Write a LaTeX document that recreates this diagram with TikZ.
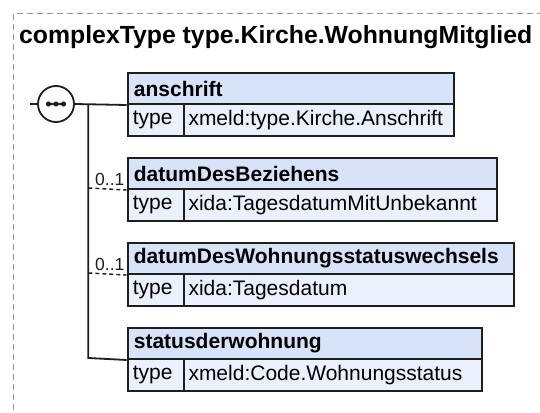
\documentclass[tikz,border=0pt]{standalone}
\usepackage{fontspec}
\setmainfont{Liberation Sans}
\definecolor{hdrfill}{RGB}{214,227,249}
\definecolor{rowfill}{RGB}{234,241,253}
\definecolor{framegray}{RGB}{150,150,150}
\definecolor{ink}{RGB}{30,30,30}
\tikzset{
  boxhdr/.style={draw=ink, line width=2pt, fill=hdrfill, rectangle, inner sep=0pt, minimum height=31pt, anchor=north west},
  boxrow/.style={draw=ink, line width=2pt, fill=rowfill, rectangle, inner sep=0pt, minimum height=32pt, anchor=north west},
  hdrtext/.style={font=\fontsize{21}{23}\selectfont\bfseries, anchor=west, inner sep=0pt, text=black},
  rowtext/.style={font=\fontsize{21}{23}\selectfont, anchor=west, inner sep=0pt, text=black},
  conn/.style={draw=ink, line width=1.8pt},
  optconn/.style={draw=ink, line width=1.4pt, dash pattern=on 4pt off 3pt},
  occ/.style={font=\fontsize{17.5}{19}\selectfont, anchor=base west, inner sep=0pt, text=ink},
}
\begin{document}
\begin{tikzpicture}[x=1pt,y=-1pt]
\useasboundingbox (0,0) rectangle (540,412);
\clip (0,0) rectangle (540,412);
\fill[white] (0,0) rectangle (540,412);
% outer dashed frame
\draw[framegray, line width=1pt, dash pattern=on 6pt off 4pt] (13.5,430) -- (13.5,13.5) -- (560,13.5);
\node[font=\fontsize{24.8}{27}\selectfont\bfseries, anchor=base west, inner sep=0pt] (title) at (19,44) {complexType type.Kirche.WohnungMitglied};

% box 1
\node[boxhdr, minimum width=326.6pt] (h1) at (126.7,72) {};
\node[boxrow, minimum width=56.6pt] (t1) at (126.7,103) {};
\node[boxrow, minimum width=270pt] (v1) at (183.3,103) {};
\node[hdrtext] (h1l) at ([xshift=7pt]h1.west) {anschrift};
\node[rowtext] (t1l) at ([xshift=6pt]t1.west) {type};
\node[rowtext] (v1l) at ([xshift=5pt]v1.west) {xmeld:type.Kirche.Anschrift};

% box 2
\node[boxhdr, minimum width=369pt] (h2) at (126.7,157) {};
\node[boxrow, minimum width=56.6pt] (t2) at (126.7,188) {};
\node[boxrow, minimum width=312.4pt] (v2) at (183.3,188) {};
\node[hdrtext] (h2l) at ([xshift=7pt]h2.west) {datumDesBeziehens};
\node[rowtext] (t2l) at ([xshift=6pt]t2.west) {type};
\node[rowtext] (v2l) at ([xshift=5pt]v2.west) {xida:TagesdatumMitUnbekannt};

% box 3
\node[boxhdr, minimum width=386.6pt] (h3) at (126.7,242) {};
\node[boxrow, minimum width=56.6pt] (t3) at (126.7,273) {};
\node[boxrow, minimum width=330pt] (v3) at (183.3,273) {};
\node[hdrtext] (h3l) at ([xshift=7pt]h3.west) {datumDesWohnungsstatuswechsels};
\node[rowtext] (t3l) at ([xshift=6pt]t3.west) {type};
\node[rowtext] (v3l) at ([xshift=5pt]v3.west) {xida:Tagesdatum};

% box 4
\node[boxhdr, minimum width=354.6pt] (h4) at (126.7,327) {};
\node[boxrow, minimum width=56.6pt] (t4) at (126.7,358) {};
\node[boxrow, minimum width=298pt] (v4) at (183.3,358) {};
\node[hdrtext] (h4l) at ([xshift=7pt]h4.west) {statusderwohnung};
\node[rowtext] (t4l) at ([xshift=6pt]t4.west) {type};
\node[rowtext] (v4l) at ([xshift=5pt]v4.west) {xmeld:Code.Wohnungsstatus};

% sequence compositor
\coordinate (in) at (30,104);
\node[circle, draw=ink, line width=1.8pt, fill=white, minimum size=36pt, inner sep=0pt] (seq) at (56,104) {};
\draw[ink, line width=1.4pt] ([xshift=-9pt]seq.center) -- ([xshift=9pt]seq.center);
\foreach \dx in {-7.5,0,7.5} \fill[ink] ([xshift=\dx pt]seq.center) circle (2.6pt);
\coordinate (branch) at (88.3,104);
\coordinate (b2) at (88.3,188);
\coordinate (b3) at (88.3,273);
\coordinate (b4) at (88.3,358);

\draw[conn] (in) -- (seq.west);
\draw[conn] (seq.east) -- (h1.south west);
\draw[conn] (branch) -- (b4) -- (h4.south west);
\draw[optconn] (b2) -- (h2.south west);
\draw[optconn] (b3) -- (h3.south west);
\node[occ] (o2) at (95,185.5) {0..1};
\node[occ] (o3) at (95,270.5) {0..1};
\end{tikzpicture}
\end{document}
